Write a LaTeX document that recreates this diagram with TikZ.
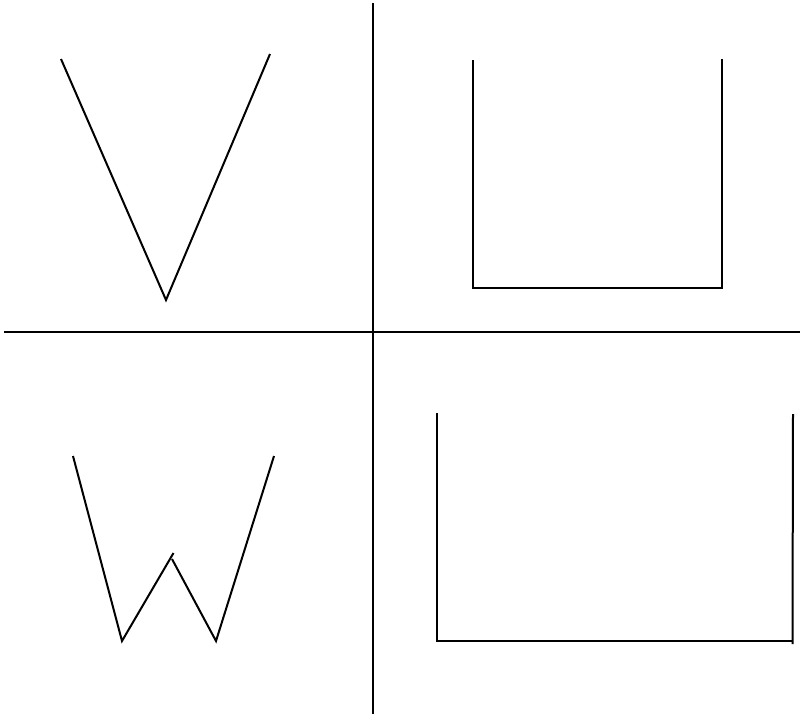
\documentclass[tikz,border=0pt]{standalone}
\begin{document}
\begin{tikzpicture}[x=1pt,y=-1pt,stroke/.style={line width=2pt,line cap=butt,line join=miter}]
\useasboundingbox (0,0) rectangle (801,715);
% axes
\coordinate (vt) at (373,3); \coordinate (vb) at (373,714);
\coordinate (hl) at (4,331.5); \coordinate (hr) at (800,331.5);
\draw[stroke] (vt) -- (vb);
\draw[stroke] (hl) -- (hr);
% V
\coordinate (v1) at (61,59); \coordinate (v2) at (166,300); \coordinate (v3) at (270,54);
\draw[stroke] (v1) -- (v2) -- (v3);
% U (top right)
\coordinate (u1) at (473,60); \coordinate (u2) at (473,288); \coordinate (u3) at (722,288); \coordinate (u4) at (722,59);
\draw[stroke] (u1) -- (u2) -- (u3) -- (u4);
% W
\coordinate (w1) at (73,456); \coordinate (w2) at (122,641); \coordinate (w3) at (173.5,553);
\coordinate (w4) at (172,559); \coordinate (w5) at (216,641); \coordinate (w6) at (274,456);
\draw[stroke] (w1) -- (w2) -- (w3);
\draw[stroke] (w4) -- (w5) -- (w6);
% large U (bottom right)
\coordinate (b1) at (437,413); \coordinate (b2) at (437,641); \coordinate (b3) at (792,641);
\coordinate (b4) at (793,414); \coordinate (b5) at (792.5,644);
\draw[stroke] (b1) -- (b2) -- (b3);
\draw[stroke] (b4) -- (b5);
\end{tikzpicture}
\end{document}
